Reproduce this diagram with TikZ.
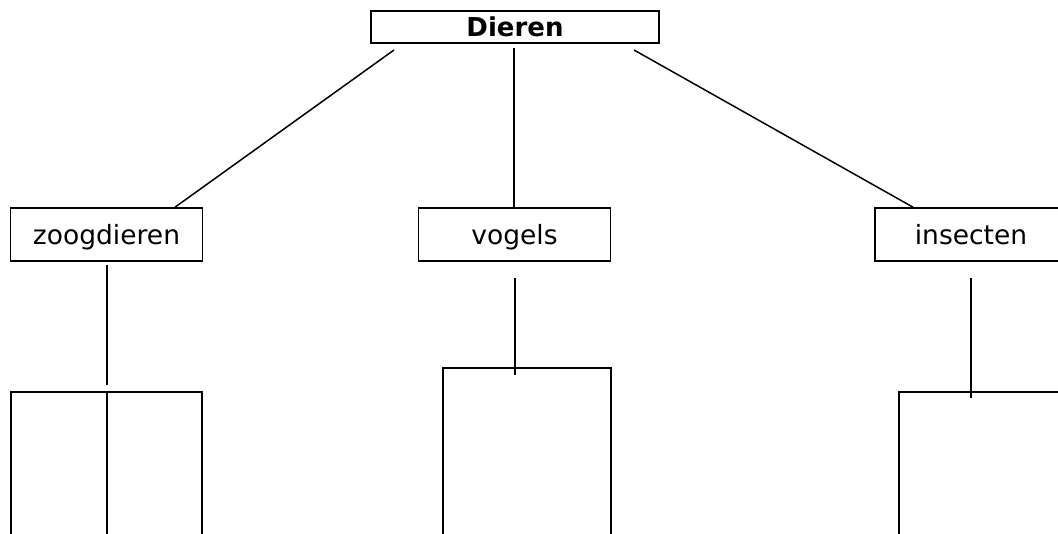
\documentclass[tikz,border=0pt]{standalone}
\usepackage{fontspec}
\setmainfont{DejaVu Sans}
\begin{document}
\begin{tikzpicture}[x=1pt,y=-1pt,
  box/.style={draw,line width=1.6pt,inner sep=0pt,text height=26pt,text depth=5pt,font=\fontsize{26.5}{30}\selectfont},
  topbox/.style={box,minimum width=288pt,minimum height=32pt,text height=25pt,text depth=5pt,font=\fontsize{26}{30}\selectfont\bfseries},
  catbox/.style={box,minimum width=192pt,minimum height=53pt},
  link/.style={line width=1.5pt},
  openbox/.style={line width=2pt}]
\useasboundingbox (0,0) rectangle (1058,534);
\clip (0,0) rectangle (1058,534);
\node[topbox] (dieren) at (515,27) {Dieren};
\node[catbox] (zoog) at (106.5,234.5) {zoogdieren};
\node[catbox] (vogels) at (514.5,234.5) {vogels};
\node[catbox] (insect) at (971,234.5) {insecten};
% connectors from Dieren
\coordinate (dl) at (394,50);
\coordinate (dm) at (514,48);
\coordinate (dr) at (634,50);
\draw[link] (dl) -- (zoog.north -| 175,0);
\draw[link] (dm) -- (vogels.north -| 514,0);
\draw[link] (dr) -- (insect.north -| 913,0);
% lines below categories
\coordinate (zs) at (107,265); \coordinate (ze) at (107,385);
\coordinate (vs) at (515,278); \coordinate (ve) at (515,375);
\coordinate (is) at (971,278); \coordinate (ie) at (971,398);
\draw[link] (zs) -- (ze);
\draw[link] (vs) -- (ve);
\draw[link] (is) -- (ie);
% open boxes at the bottom
\coordinate (b1a) at (11,540); \coordinate (b1b) at (11,392);
\coordinate (b1c) at (202,392); \coordinate (b1d) at (202,540);
\coordinate (b1m) at (107,392); \coordinate (b1n) at (107,540);
\draw[openbox] (b1a) -- (b1b) -- (b1c) -- (b1d);
\draw[openbox] (b1m) -- (b1n);
\coordinate (b2a) at (443,540); \coordinate (b2b) at (443,368);
\coordinate (b2c) at (611,368); \coordinate (b2d) at (611,540);
\draw[openbox] (b2a) -- (b2b) -- (b2c) -- (b2d);
\coordinate (b3a) at (899,540); \coordinate (b3b) at (899,392);
\coordinate (b3c) at (1070,392);
\draw[openbox] (b3a) -- (b3b) -- (b3c);
\end{tikzpicture}
\end{document}
